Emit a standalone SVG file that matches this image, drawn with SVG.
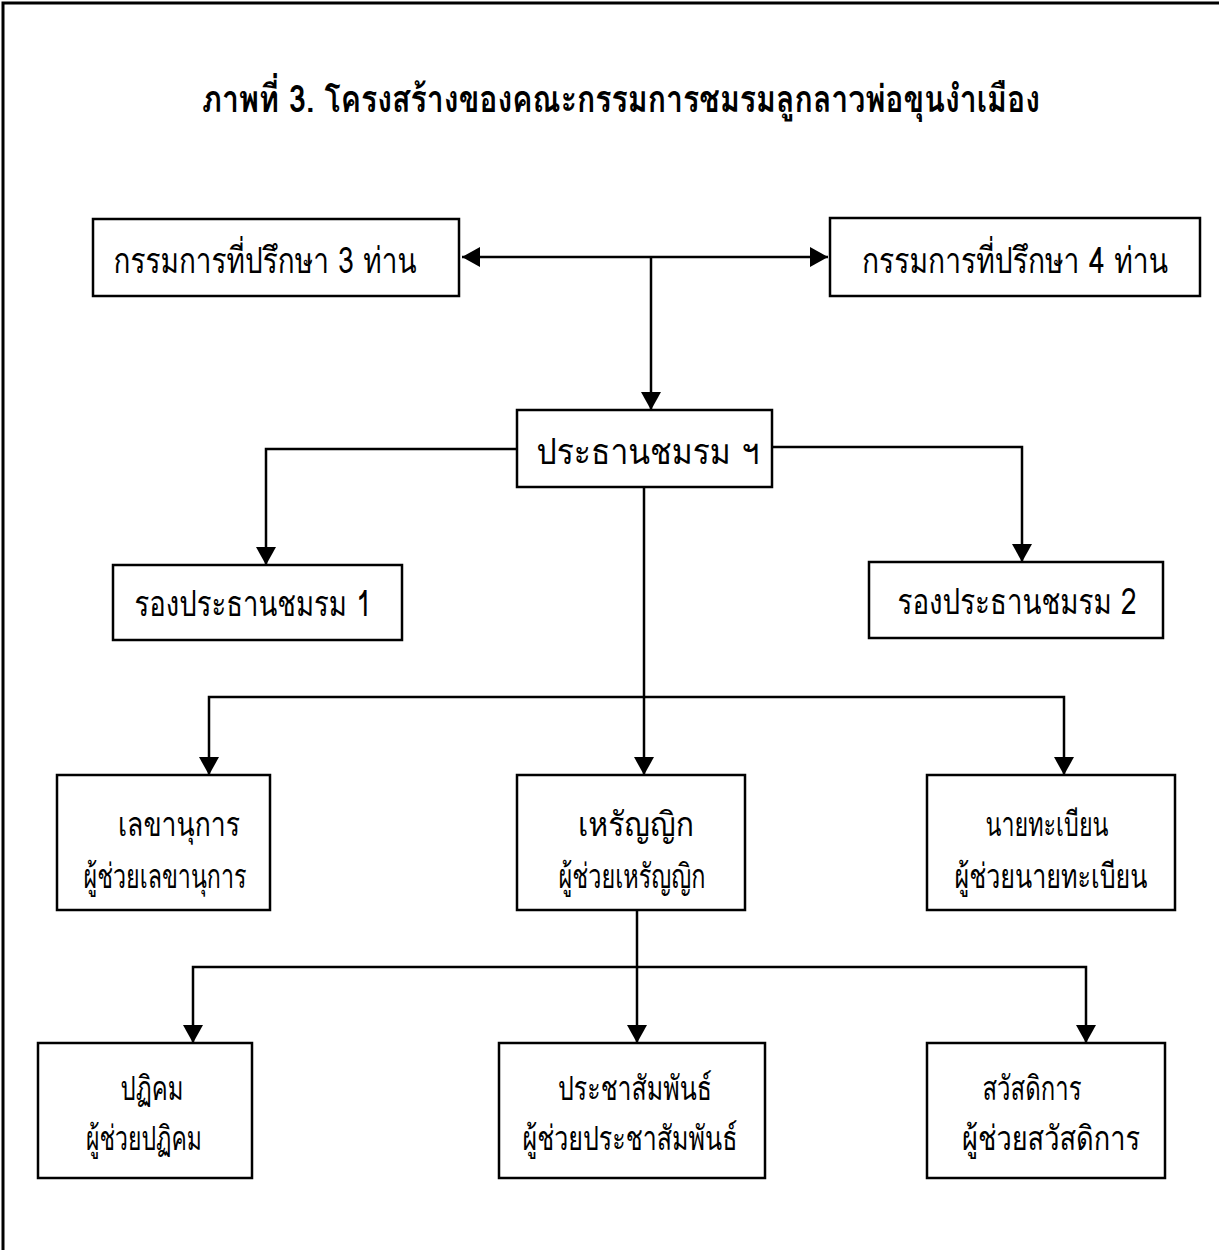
<svg xmlns="http://www.w3.org/2000/svg" width="1219" height="1250" viewBox="0 0 1219 1250">
<style>
  .box { fill: #fff; stroke: #000; stroke-width: 2.5; }
  .conn { fill: none; stroke: #000; stroke-width: 2.5; }
  .t { font-family: "Garuda", "Loma", "Norasi", "Noto Serif Thai", "Noto Sans Thai Looped", "Noto Sans Thai", "DejaVu Sans", sans-serif; font-size: 34px; fill: #000; text-anchor: middle; }
  .t1 { font-size: 36px; }
  .title { font-family: "Garuda", "Loma", "Noto Sans Thai Looped", "Noto Sans Thai", "DejaVu Sans", sans-serif; font-size: 38px; font-weight: bold; fill: #000; text-anchor: middle; }
</style>
<defs>
  <marker id="arr" viewBox="0 0 18 20" refX="18" refY="10" markerWidth="18" markerHeight="20" markerUnits="userSpaceOnUse" orient="auto-start-reverse">
    <path d="M0,0 L18,10 L0,20 Z" fill="#000"/>
  </marker>
</defs>
<rect width="1219" height="1250" fill="#fff"/>
<path d="M3,1250 V3 H1219" fill="none" stroke="#000" stroke-width="3"/>
<text class="title" x="621" y="112" textLength="838" lengthAdjust="spacingAndGlyphs">ภาพที่ 3. โครงสร้างของคณะกรรมการชมรมลูกลาวพ่อขุนงำเมือง</text>

<g id="connectors">
  <path class="conn" d="M462,257 H828" marker-start="url(#arr)" marker-end="url(#arr)"/>
  <path class="conn" d="M651,258 V410" marker-end="url(#arr)"/>
  <path class="conn" d="M517,449 H266 V565" marker-end="url(#arr)"/>
  <path class="conn" d="M772,447 H1022 V562" marker-end="url(#arr)"/>
  <path class="conn" d="M644,487 V775" marker-end="url(#arr)"/>
  <path class="conn" d="M644,697 H209 V775" marker-end="url(#arr)"/>
  <path class="conn" d="M644,697 H1064 V775" marker-end="url(#arr)"/>
  <path class="conn" d="M637,910 V1043" marker-end="url(#arr)"/>
  <path class="conn" d="M637,967 H193 V1043" marker-end="url(#arr)"/>
  <path class="conn" d="M637,967 H1086 V1043" marker-end="url(#arr)"/>
</g>

<g id="n-advisor3">
  <rect class="box" x="93" y="219" width="366" height="77"/>
  <text class="t t1" x="265" y="273" textLength="303" lengthAdjust="spacingAndGlyphs">กรรมการที่ปรึกษา 3 ท่าน</text>
</g>
<g id="n-advisor4">
  <rect class="box" x="830" y="218" width="370" height="78"/>
  <text class="t t1" x="1015" y="273" textLength="306" lengthAdjust="spacingAndGlyphs">กรรมการที่ปรึกษา 4 ท่าน</text>
</g>
<g id="n-president">
  <rect class="box" x="517" y="410" width="255" height="77"/>
  <text class="t t1" x="648" y="464" textLength="223" lengthAdjust="spacingAndGlyphs">ประธานชมรม ฯ</text>
</g>
<g id="n-vp1">
  <rect class="box" x="113" y="565" width="289" height="75"/>
  <text class="t t1" x="253" y="616" textLength="237" lengthAdjust="spacingAndGlyphs">รองประธานชมรม 1</text>
</g>
<g id="n-vp2">
  <rect class="box" x="869" y="562" width="294" height="76"/>
  <text class="t t1" x="1017" y="614" textLength="239" lengthAdjust="spacingAndGlyphs">รองประธานชมรม 2</text>
</g>
<g id="n-secretary">
  <rect class="box" x="57" y="775" width="213" height="135"/>
  <text class="t" x="179" y="836" textLength="122" lengthAdjust="spacingAndGlyphs">เลขานุการ</text>
  <text class="t" x="165" y="888" textLength="163" lengthAdjust="spacingAndGlyphs">ผู้ช่วยเลขานุการ</text>
</g>
<g id="n-treasurer">
  <rect class="box" x="517" y="775" width="228" height="135"/>
  <text class="t" x="636" y="836" textLength="116" lengthAdjust="spacingAndGlyphs">เหรัญญิก</text>
  <text class="t" x="632" y="888" textLength="147" lengthAdjust="spacingAndGlyphs">ผู้ช่วยเหรัญญิก</text>
</g>
<g id="n-registrar">
  <rect class="box" x="927" y="775" width="248" height="135"/>
  <text class="t" x="1047" y="836" textLength="123" lengthAdjust="spacingAndGlyphs">นายทะเบียน</text>
  <text class="t" x="1051" y="888" textLength="193" lengthAdjust="spacingAndGlyphs">ผู้ช่วยนายทะเบียน</text>
</g>
<g id="n-reception">
  <rect class="box" x="38" y="1043" width="214" height="135"/>
  <text class="t" x="152" y="1100" textLength="63" lengthAdjust="spacingAndGlyphs">ปฏิคม</text>
  <text class="t" x="144" y="1150" textLength="116" lengthAdjust="spacingAndGlyphs">ผู้ช่วยปฏิคม</text>
</g>
<g id="n-pr">
  <rect class="box" x="499" y="1043" width="266" height="135"/>
  <text class="t" x="635" y="1100" textLength="154" lengthAdjust="spacingAndGlyphs">ประชาสัมพันธ์</text>
  <text class="t" x="630" y="1150" textLength="215" lengthAdjust="spacingAndGlyphs">ผู้ช่วยประชาสัมพันธ์</text>
</g>
<g id="n-welfare">
  <rect class="box" x="927" y="1043" width="238" height="135"/>
  <text class="t" x="1032" y="1100" textLength="99" lengthAdjust="spacingAndGlyphs">สวัสดิการ</text>
  <text class="t" x="1051" y="1150" textLength="178" lengthAdjust="spacingAndGlyphs">ผู้ช่วยสวัสดิการ</text>
</g>
</svg>
